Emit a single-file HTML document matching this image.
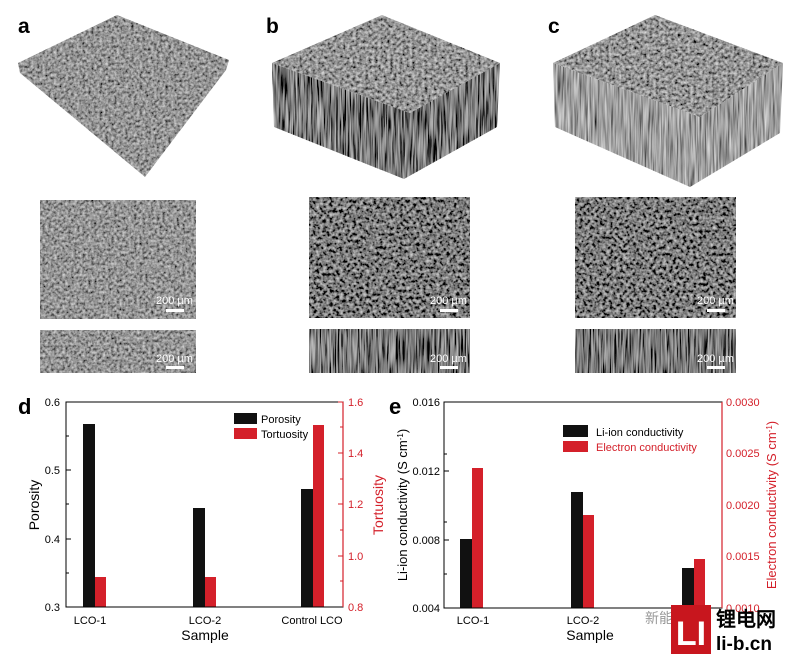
<!DOCTYPE html>
<html><head><meta charset="utf-8"><style>
body{margin:0;background:#fff;width:787px;height:654px;overflow:hidden}
svg{display:block}
text{font-family:"Liberation Sans",Arial,sans-serif}
</style></head><body>
<svg width="787" height="654" viewBox="0 0 787 654" xmlns="http://www.w3.org/2000/svg">
<defs>
<filter id="g1" x="0" y="0" width="100%" height="100%"><feTurbulence type="fractalNoise" baseFrequency="0.35" numOctaves="2" seed="4"/><feColorMatrix type="matrix" values="0.9 0 0 0 -0.15  0.9 0 0 0 -0.15  0.9 0 0 0 -0.15  0 0 0 0 1"/></filter>
<filter id="g2" x="0" y="0" width="100%" height="100%"><feTurbulence type="fractalNoise" baseFrequency="0.3" numOctaves="2" seed="7"/><feColorMatrix type="matrix" values="1.1 0 0 0 -0.35  1.1 0 0 0 -0.35  1.1 0 0 0 -0.35  0 0 0 0 1"/></filter>
<filter id="g3" x="0" y="0" width="100%" height="100%"><feTurbulence type="fractalNoise" baseFrequency="0.6 0.03" numOctaves="2" seed="9"/><feColorMatrix type="matrix" values="1.1 0 0 0 -0.35  1.1 0 0 0 -0.35  1.1 0 0 0 -0.35  0 0 0 0 1"/></filter>
<filter id="g4" x="0" y="0" width="100%" height="100%"><feTurbulence type="fractalNoise" baseFrequency="0.32" numOctaves="2" seed="11"/><feColorMatrix type="matrix" values="1.0 0 0 0 -0.2  1.0 0 0 0 -0.2  1.0 0 0 0 -0.2  0 0 0 0 1"/></filter>
<filter id="g5" x="0" y="0" width="100%" height="100%"><feTurbulence type="fractalNoise" baseFrequency="0.6 0.03" numOctaves="2" seed="13"/><feColorMatrix type="matrix" values="1.0 0 0 0 -0.15  1.0 0 0 0 -0.15  1.0 0 0 0 -0.15  0 0 0 0 1"/></filter>
<clipPath id="cA"><polygon points="117,15 229,60 226,70 145,177 20,73 18,63"/></clipPath>
<clipPath id="cBt"><polygon points="382,15 500,63 410,113 272,63"/></clipPath>
<clipPath id="cBs"><polygon points="272,63 410,113 500,63 497,127 404,179 274,127"/></clipPath>
<clipPath id="cCt"><polygon points="655,15 783,63 700,117 553,63"/></clipPath>
<clipPath id="cCs"><polygon points="553,63 700,117 783,63 780,133 690,187 555,127"/></clipPath>
</defs>
<rect x="0" y="0" width="260" height="200" filter="url(#g1)" clip-path="url(#cA)"/>
<rect x="260" y="0" width="260" height="200" filter="url(#g3)" clip-path="url(#cBs)"/>
<rect x="260" y="0" width="260" height="200" filter="url(#g4)" clip-path="url(#cBt)"/>
<rect x="540" y="0" width="247" height="200" filter="url(#g5)" clip-path="url(#cCs)"/>
<rect x="540" y="0" width="247" height="200" filter="url(#g4)" clip-path="url(#cCt)"/>
<text x="18" y="33" font-size="21" font-weight="bold">a</text>
<text x="266" y="33" font-size="21" font-weight="bold">b</text>
<text x="548" y="33" font-size="21" font-weight="bold">c</text>
<rect x="40" y="200" width="156" height="119" filter="url(#g1)"/>
<rect x="40" y="330" width="156" height="43" filter="url(#g1)"/>
<rect x="309" y="197" width="161" height="121" filter="url(#g2)"/>
<rect x="309" y="329" width="161" height="44" filter="url(#g3)"/>
<rect x="575" y="197" width="161" height="121" filter="url(#g2)"/>
<rect x="575" y="329" width="161" height="44" filter="url(#g3)"/>
<g fill="#fff" font-size="11">
<text x="156" y="304">200 µm</text><rect x="166" y="309" width="18" height="3"/>
<text x="430" y="304">200 µm</text><rect x="440" y="309" width="18" height="3"/>
<text x="697" y="304">200 µm</text><rect x="707" y="309" width="18" height="3"/>
<text x="156" y="362">200 µm</text><rect x="166" y="366" width="18" height="3"/>
<text x="430" y="362">200 µm</text><rect x="440" y="366" width="18" height="3"/>
<text x="697" y="362">200 µm</text><rect x="707" y="366" width="18" height="3"/>
</g>
<text x="18" y="414" font-size="22" font-weight="bold">d</text>
<rect x="83" y="424" width="12" height="183" fill="#111"/>
<rect x="95" y="577" width="11" height="30" fill="#d4202a"/>
<rect x="193" y="508" width="12" height="99" fill="#111"/>
<rect x="205" y="577" width="11" height="30" fill="#d4202a"/>
<rect x="301" y="489" width="12" height="118" fill="#111"/>
<rect x="313" y="425" width="11" height="182" fill="#d4202a"/>
<rect x="66" y="402" width="277" height="205" fill="none" stroke="#000" stroke-width="1"/>
<line x1="343" y1="402" x2="343" y2="607" stroke="#d4202a" stroke-width="1.2"/>
<g stroke="#000"><line x1="66" y1="402" x2="71" y2="402"/><line x1="66" y1="436" x2="69" y2="436"/><line x1="66" y1="470" x2="71" y2="470"/><line x1="66" y1="504" x2="69" y2="504"/><line x1="66" y1="539" x2="71" y2="539"/><line x1="66" y1="573" x2="69" y2="573"/></g>
<g stroke="#d4202a"><line x1="338" y1="402" x2="343" y2="402"/><line x1="340" y1="427" x2="343" y2="427"/><line x1="338" y1="453" x2="343" y2="453"/><line x1="340" y1="479" x2="343" y2="479"/><line x1="338" y1="504" x2="343" y2="504"/><line x1="340" y1="530" x2="343" y2="530"/><line x1="338" y1="556" x2="343" y2="556"/><line x1="340" y1="581" x2="343" y2="581"/></g>
<g font-size="11" text-anchor="end"><text x="60" y="406">0.6</text><text x="60" y="474">0.5</text><text x="60" y="543">0.4</text><text x="60" y="611">0.3</text></g>
<g font-size="11" fill="#d4202a"><text x="348" y="406">1.6</text><text x="348" y="457">1.4</text><text x="348" y="508">1.2</text><text x="348" y="560">1.0</text><text x="348" y="611">0.8</text></g>
<g font-size="11" text-anchor="middle"><text x="90" y="624">LCO-1</text><text x="205" y="624">LCO-2</text><text x="312" y="624">Control LCO</text></g>
<text x="205" y="640" font-size="14" text-anchor="middle">Sample</text>
<text transform="translate(39,505) rotate(-90)" font-size="14" text-anchor="middle">Porosity</text>
<text transform="translate(383,505) rotate(-90)" font-size="14" text-anchor="middle" fill="#d4202a">Tortuosity</text>
<rect x="234" y="413" width="23" height="11" fill="#111"/><text x="261" y="423" font-size="11">Porosity</text>
<rect x="234" y="428" width="23" height="11" fill="#d4202a"/><text x="261" y="438" font-size="11">Tortuosity</text>
<text x="389" y="414" font-size="22" font-weight="bold">e</text>
<rect x="460" y="539" width="12" height="69" fill="#111"/>
<rect x="472" y="468" width="11" height="140" fill="#d4202a"/>
<rect x="571" y="492" width="12" height="116" fill="#111"/>
<rect x="583" y="515" width="11" height="93" fill="#d4202a"/>
<rect x="682" y="568" width="12" height="40" fill="#111"/>
<rect x="694" y="559" width="11" height="49" fill="#d4202a"/>
<rect x="444" y="402" width="278" height="206" fill="none" stroke="#000"/>
<line x1="722" y1="402" x2="722" y2="608" stroke="#d4202a" stroke-width="1.2"/>
<g stroke="#000"><line x1="444" y1="454" x2="447" y2="454"/><line x1="444" y1="471" x2="449" y2="471"/><line x1="444" y1="522" x2="447" y2="522"/><line x1="444" y1="540" x2="449" y2="540"/><line x1="444" y1="574" x2="447" y2="574"/></g>
<g font-size="11" text-anchor="end"><text x="440" y="406">0.016</text><text x="440" y="475">0.012</text><text x="440" y="544">0.008</text><text x="440" y="612">0.004</text></g>
<g font-size="11" fill="#d4202a"><text x="726" y="406">0.0030</text><text x="726" y="457">0.0025</text><text x="726" y="509">0.0020</text><text x="726" y="560">0.0015</text><text x="726" y="612">0.0010</text></g>
<g font-size="11" text-anchor="middle"><text x="473" y="624">LCO-1</text><text x="583" y="624">LCO-2</text></g>
<text x="590" y="640" font-size="14" text-anchor="middle">Sample</text>
<text transform="translate(407,505) rotate(-90)" font-size="13" text-anchor="middle">Li-ion conductivity (S cm<tspan baseline-shift="super" font-size="8">-1</tspan>)</text>
<text transform="translate(776,505) rotate(-90)" font-size="13" text-anchor="middle" fill="#d4202a">Electron conductivity (S cm<tspan baseline-shift="super" font-size="8">-1</tspan>)</text>
<rect x="563" y="425" width="25" height="12" fill="#111"/><text x="596" y="436" font-size="11">Li-ion conductivity</text>
<rect x="563" y="441" width="25" height="11" fill="#d4202a"/><text x="596" y="451" font-size="11" fill="#d4202a">Electron conductivity</text>
<text x="645" y="623" font-size="14" fill="#999" font-family="Liberation Sans,'Noto Sans CJK SC',sans-serif">新能源</text>
<rect x="671" y="605" width="40" height="49" fill="#c8161e"/>
<text x="691" y="645" font-size="34" font-weight="bold" fill="#fff" text-anchor="middle">LI</text>
<text x="716" y="626" font-size="20" font-weight="bold" font-family="'Noto Sans CJK SC',sans-serif">锂电网</text>
<text x="716" y="650" font-size="19" font-weight="bold">li-b.cn</text>
</svg>
</body></html>
